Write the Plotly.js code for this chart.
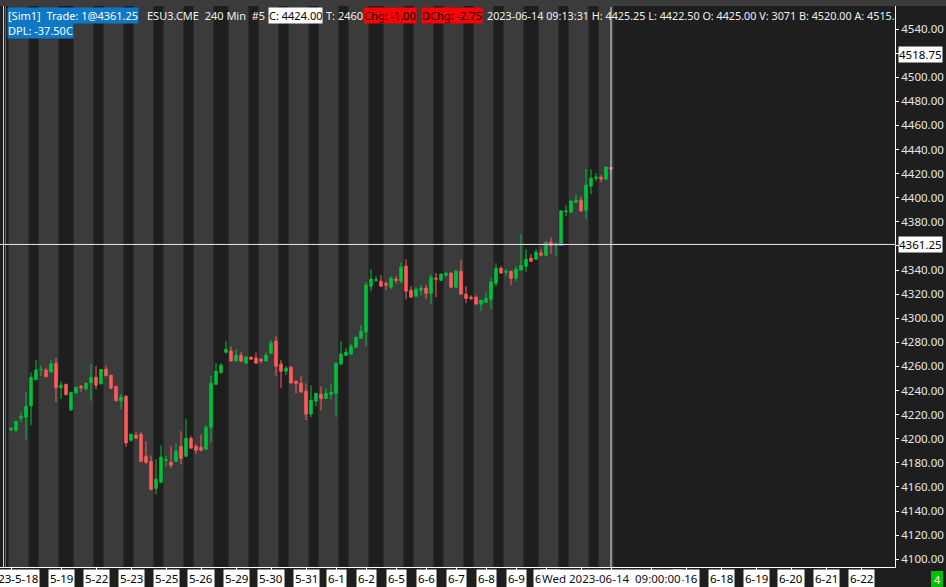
<!DOCTYPE html>
<html>
<head>
<meta charset="utf-8">
<script src="https://cdn.plot.ly/plotly-3.0.1.min.js"></script>
<style>html,body{margin:0;padding:0;background:#1e1e1e;}#chart{width:946px;height:587px;}</style>
</head>
<body>
<div id="chart"></div>
<script>
// ---- data (240-min bars, bar index 0..120) ----
const opens  = [4207.5,4207,4217.25,4218,4227.25,4249,4257.25,4257,4255.5,4262.75,4242.25,4245.25,4224,4238,4243.5,4241.5,4246.5,4251,4245.5,4257.75,4252.75,4243.5,4231.5,4235.25,4198.75,4203,4203.75,4185.5,4181.25,4159,4164,4182.25,4180.5,4181.25,4193.75,4185.5,4200.5,4193.75,4193,4191.25,4209.5,4245.25,4254.75,4271.75,4272.75,4264.5,4269.25,4262.75,4267.75,4267,4266,4264.5,4271,4281,4262,4256,4259.5,4247.75,4246,4239.5,4220.5,4231.25,4237,4233.5,4237,4237.75,4262,4269.25,4270.25,4276,4283.5,4288.75,4326.5,4331.5,4330.75,4328.75,4325.75,4332.5,4330.75,4343.25,4323.25,4318.25,4323.25,4325,4320.75,4333.25,4331.5,4335.75,4337.5,4325.75,4339,4320,4317.5,4317.5,4311.75,4313.25,4315.75,4329,4341.5,4338.25,4339,4333.25,4340,4343.25,4349.75,4349,4354,4352.25,4363,4360.5,4360.5,4388.5,4388,4396.25,4398,4389.75,4409.5,4416.25,4417,4415.5,4425];
const highs  = [4209.25,4214.75,4222,4238.5,4255,4265.25,4261,4259,4265.25,4267,4247.75,4245.5,4238.75,4243,4244.5,4247,4262,4260.25,4257.75,4261,4253,4243.75,4237,4236,4203.75,4205.5,4205.5,4198,4186.25,4183,4194.5,4186.25,4193.75,4196.25,4206.25,4216.25,4202,4195.5,4203.75,4211.25,4252,4262.75,4262.75,4281,4276.75,4274.25,4271.75,4268.5,4268,4271.75,4267,4271.75,4281.75,4285,4265.25,4260.25,4259.75,4248.5,4252,4246,4244.5,4237.75,4243.5,4242,4245.25,4262.75,4281,4275.25,4278.5,4284.25,4294.25,4330,4340.75,4335,4335.75,4330.75,4335,4335,4346.5,4349,4326.5,4325.75,4327.5,4327.5,4336.5,4337.5,4337.5,4338.25,4337.75,4340,4348.25,4326.5,4319,4319,4315,4321.5,4333.25,4345.75,4343.25,4340.75,4339.25,4343.25,4369.75,4357.25,4353.25,4357.25,4357.25,4364,4367.25,4363,4389.75,4393.75,4397.25,4403,4401.25,4423.75,4423.75,4420.5,4418.75,4425.5,4425.25];
const lows   = [4206.5,4205.5,4213.75,4199.5,4211.25,4248.75,4252,4251.25,4254.75,4230.5,4233,4236.25,4223,4237.75,4239,4239.75,4231.5,4241,4245.25,4252,4241,4231.25,4224.5,4193.25,4197.5,4200.25,4181.25,4178.75,4157.25,4154,4163,4177.25,4175.5,4181,4178.75,4185.25,4192,4187.25,4189.5,4191,4197,4245,4254.5,4271,4264.25,4264.25,4263.5,4262.5,4265.75,4262.5,4262.75,4264.25,4270.75,4252,4242,4252.75,4246,4237.75,4238.5,4215.5,4218,4227,4223.75,4233.25,4232.75,4218,4261,4268.5,4270,4275.75,4283.25,4277,4322.5,4330,4326.5,4323.25,4324,4329,4329,4315.75,4317.5,4317.5,4319,4315.75,4311.75,4317.5,4331.25,4334,4325,4325,4320,4312.5,4315,4311.75,4306,4313,4307.5,4326.5,4337.25,4335,4327.5,4330.75,4339.75,4338.25,4347.25,4348.75,4352.25,4351.5,4353.25,4351.5,4360.25,4384.75,4387.75,4396,4388.75,4382.25,4403,4413.75,4413,4414.5,4422.5];
const closes = [4208.75,4214.5,4218.5,4227,4251,4257,4257.5,4251.5,4262,4242.25,4244.5,4236.5,4238.5,4242.75,4242.25,4246,4251,4244.5,4257.5,4252.25,4242,4231.5,4234.5,4196.5,4203.75,4200.5,4181.25,4180.5,4158,4166.5,4184.75,4182.5,4178,4189.5,4183.75,4200.5,4192.25,4190.5,4190.5,4209.5,4246,4256,4261,4274.25,4264.5,4269.25,4264.5,4267.75,4266,4262.75,4264.5,4269.25,4279.25,4260.25,4256,4258.5,4246.25,4246,4238.75,4220.5,4232,4237.75,4233.5,4237.75,4238.5,4262.75,4270.25,4271.75,4276.75,4284.25,4289.25,4327.5,4332.5,4332,4326.5,4327.5,4333.25,4331.5,4342.5,4322.5,4317.5,4324,4325,4320.75,4334,4332.5,4336.5,4337.5,4325.75,4339,4320,4316.5,4316.5,4311.75,4315,4316.5,4330,4341.5,4337.5,4339,4333.25,4340.75,4344,4349,4347.25,4354.75,4352.25,4363,4360.5,4361.5,4389,4389,4397.25,4398,4389,4410.5,4416.25,4417,4415.5,4425.5,4424];

// light (day-session) bands: first bar index of each
const sessionStarts = [0,6,13,19,25,31,37,44,50,56,62,68,75,81,87,93,99,106,112,118];
const sessionBars = 4;

// x-axis tick positions (bar index) and their date labels
// (labels at 114, 120, 128 are hidden under the cursor date box in the reference)
const tickBars  = [0,10,17,24,31,38,45,52,59,65,71,77,83,89,95,101,107,114,120,128,135,142,149,156,163,170];
const tickTexts = ["2023-5-18","5-19","5-22","5-23","5-25","5-26","5-29","5-30","5-31","6-1","6-2","6-5","6-6","6-7","6-8","6-9","6-12","","","","6-16","6-18","6-19","6-20","6-21","6-22"];

// price axis ticks (4360 and 4520 are covered by the price boxes)
const yTickVals = [4100,4120,4140,4160,4180,4200,4220,4240,4260,4280,4300,4320,4340,4360,4380,4400,4420,4440,4460,4480,4500,4520,4540];
const yHidden = [4360, 4520];

// crosshair / markers
const cursorBar = 120;
const cursorLabel = "Wed 2023-06-14\u00a0\u00a009:00:00";
const lastTradePrice = 4361.25;
const otherPrice = 4518.75;
const tradeBars = [107,110];

// header texts
const headerSegs = [
  {text:"[Sim1]\u00a0\u00a0Trade: 1@4361.25", bg:"#0e78c6", fg:"#ffffff"},
  {text:"ESU3.CME\u00a0\u00a0240 Min\u00a0\u00a0#5", bg:null, fg:"#f0f0f0"},
  {text:"C: 4424.00", bg:"#ffffff", fg:"#000000"},
  {text:"T: 2460", bg:null, fg:"#f0f0f0"},
  {text:"Chg: -1.00", bg:"#ff0000", fg:"#000000"},
  {text:"DChg: -2.75", bg:"#ff0000", fg:"#000000"},
  {text:"2023-06-14 09:13:31 H: 4425.25 L: 4422.50 O: 4425.00 V: 3071 B: 4520.00 A: 4515.", bg:null, fg:"#f0f0f0"}
];
const headerLine2 = {text:"DPL: -37.50C", bg:"#0e78c6", fg:"#ffffff"};
const cornerBadge = "4";

// ---- layout constants ----
const W = 946, H = 587;
const mL = 0, mR = 51, mT = 6, mB = 20;
const plotW = W - mL - mR;
const plotH = H - mT - mB;
const FONT = "Noto Sans, Liberation Sans, sans-serif";
const UP = "#00c03c", DOWN = "#ff5a5a";

const xIdx = opens.map((_, i) => i);

const traces = [
  {
    type: "candlestick",
    x: xIdx, open: opens, high: highs, low: lows, close: closes,
    increasing: {line: {color: UP, width: 1}, fillcolor: UP},
    decreasing: {line: {color: DOWN, width: 1}, fillcolor: DOWN},
    whiskerwidth: 0,
    hoverinfo: "skip",
    showlegend: false
  },
  {
    type: "scatter", mode: "markers",
    x: tradeBars, y: tradeBars.map(() => lastTradePrice),
    marker: {symbol: "line-ew", size: 5, line: {color: "#c020c0", width: 2}},
    hoverinfo: "skip", showlegend: false
  }
];

const shapes = [];
sessionStarts.forEach(s => {
  const e = Math.min(s + sessionBars - 1, opens.length - 1);
  shapes.push({type: "rect", xref: "x", yref: "paper", x0: s - 0.5, x1: e + 0.5, y0: 0, y1: 1,
    fillcolor: "#3b3b3b", line: {width: 0}, layer: "below"});
});
// top gray strip
shapes.push({type: "rect", xref: "paper", yref: "paper", x0: 0, x1: W / plotW, y0: 1, y1: 1 + mT / plotH,
  fillcolor: "#3c3c3c", line: {width: 0}, layer: "above"});
// left edge lines
shapes.push({type: "line", xref: "paper", yref: "paper", x0: 3.5 / plotW, x1: 3.5 / plotW, y0: 0, y1: 1, line: {color: "#cfcfcf", width: 1}});
shapes.push({type: "line", xref: "paper", yref: "paper", x0: 5.5 / plotW, x1: 5.5 / plotW, y0: 0, y1: 1, line: {color: "#6a6a6a", width: 1}});
// crosshair
shapes.push({type: "line", xref: "paper", yref: "y", x0: 0, x1: 1, y0: lastTradePrice, y1: lastTradePrice, line: {color: "#e8e8e8", width: 1}});
shapes.push({type: "line", xref: "x", yref: "paper", x0: cursorBar, x1: cursorBar, y0: 0, y1: 0.998, line: {color: "#e8e8e8", width: 1}});
// corner badge box
shapes.push({type: "rect", xref: "paper", yref: "paper", x0: 931 / plotW, x1: 943 / plotW,
  y0: -4 / plotH, y1: -20 / plotH, fillcolor: "#00c000", line: {width: 0}, layer: "above"});

const annotations = [];
// header line 1 (pixel positions)
const headerX = [7, 146, 268, 325, 363, 421, 486];
headerSegs.forEach((s, i) => {
  annotations.push({xref: "paper", yref: "paper", x: 0, y: 1, xanchor: "left", yanchor: "top",
    xshift: headerX[i], yshift: -1, text: s.text, showarrow: false,
    font: {family: FONT, size: i === 6 ? 10.8 : 11, color: s.fg}, bgcolor: s.bg || "rgba(0,0,0,0)", borderpad: 0});
});
annotations.push({xref: "paper", yref: "paper", x: 0, y: 1, xanchor: "left", yanchor: "top",
  xshift: 7, yshift: -16, text: headerLine2.text, showarrow: false,
  font: {family: FONT, size: 11, color: headerLine2.fg}, bgcolor: headerLine2.bg, borderpad: 0});

// x tick labels
tickBars.forEach((b, i) => {
  if (!tickTexts[i]) return;
  annotations.push({xref: "x", yref: "paper", x: b, y: 0, xanchor: "center", yanchor: "top", yshift: -2,
    text: tickTexts[i], showarrow: false, font: {family: FONT, size: 11.5, color: "#000000"},
    bgcolor: "#ffffff", borderpad: 1});
});
// cursor date box
annotations.push({xref: "x", yref: "paper", x: cursorBar, y: 0, xanchor: "center", yanchor: "top", yshift: -2,
  text: cursorLabel, showarrow: false, font: {family: FONT, size: 11.5, color: "#101020"},
  bgcolor: "#ffffff", borderpad: 1});
// price boxes on the right axis
[otherPrice, lastTradePrice].forEach(p => {
  annotations.push({xref: "paper", yref: "y", x: 1, y: p, xanchor: "left", yanchor: "middle", xshift: 3,
    text: p.toFixed(2), showarrow: false, font: {family: FONT, size: 11.5, color: "#000000"},
    bgcolor: "#ffffff", borderpad: 0});
});
// corner badge text
annotations.push({xref: "paper", yref: "paper", x: 937 / plotW, y: -12 / plotH, xanchor: "center", yanchor: "middle",
  text: cornerBadge, showarrow: false, font: {family: FONT, size: 11, color: "#ffffff"}, borderpad: 0});

const layout = {
  width: W, height: H,
  margin: {l: mL, r: mR, t: mT, b: mB, pad: 0},
  paper_bgcolor: "#1e1e1e",
  plot_bgcolor: "#1e1e1e",
  showlegend: false,
  boxgap: 0.3,
  hovermode: false,
  xaxis: {
    range: [-2.2, 176.8], fixedrange: true,
    rangeslider: {visible: false},
    showgrid: false, zeroline: false,
    showline: true, linecolor: "#ffffff", linewidth: 1,
    ticks: "outside", ticklen: 3, tickcolor: "#ffffff",
    tickmode: "array", tickvals: tickBars, showticklabels: false
  },
  yaxis: {
    side: "right",
    range: [4093.6, 4559.1], fixedrange: true,
    showgrid: false, zeroline: false,
    showline: true, linecolor: "#ffffff", linewidth: 1,
    ticks: "outside", ticklen: 3, tickcolor: "#ffffff",
    tickmode: "array", tickvals: yTickVals,
    ticktext: yTickVals.map(v => yHidden.includes(v) ? "" : v.toFixed(2)),
    tickfont: {family: FONT, size: 11.5, color: "#e8e8e8"}
  },
  shapes: shapes,
  annotations: annotations
};

Plotly.newPlot("chart", traces, layout, {displayModeBar: false, staticPlot: true});
</script>
</body>
</html>
